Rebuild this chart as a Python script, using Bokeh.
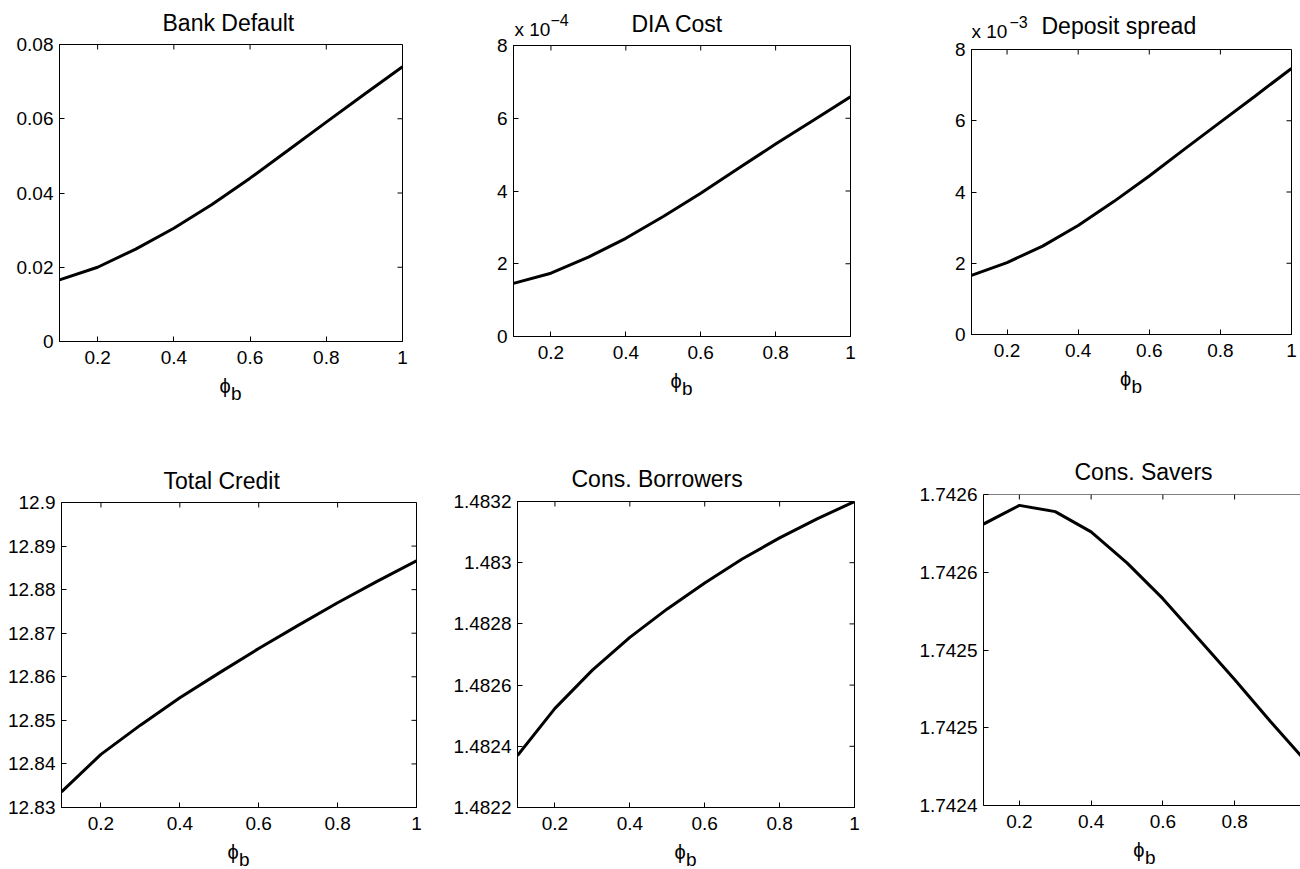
import math
from bokeh.plotting import figure
from bokeh.layouts import column, row
from bokeh.models import FixedTicker, CustomJSTickFormatter, Range1d, Span
from bokeh.core.properties import value
from bokeh.embed import file_html
from bokeh.resources import INLINE

# ---------------- data ----------------
phi_b = [0.1, 0.2, 0.3, 0.4, 0.5, 0.6, 0.7, 0.8, 0.9, 1.0]

bank_default = [0.0166, 0.0200, 0.0249, 0.0305, 0.0369, 0.0440, 0.0515, 0.0591, 0.0666, 0.0740]
dia_cost = [1.46e-4, 1.74e-4, 2.18e-4, 2.70e-4, 3.30e-4, 3.94e-4, 4.62e-4, 5.29e-4, 5.94e-4, 6.59e-4]
deposit_spread = [1.66e-3, 2.02e-3, 2.48e-3, 3.06e-3, 3.73e-3, 4.45e-3, 5.21e-3, 5.96e-3, 6.71e-3, 7.47e-3]
total_credit = [12.8336, 12.8422, 12.8489, 12.8552, 12.8609, 12.8665, 12.8718, 12.8770, 12.8819, 12.8866]
cons_borrowers = [1.48237, 1.482524, 1.482649, 1.482756, 1.482849, 1.482934, 1.483012, 1.483081, 1.483143, 1.4832]
cons_savers = [1.742581, 1.742593, 1.742589, 1.742576, 1.742556, 1.742533, 1.742507, 1.742481, 1.742454, 1.742428]

x_ticks = [0.2, 0.4, 0.6, 0.8, 1.0]
x_tick_labels = ["0.2", "0.4", "0.6", "0.8", "1"]

bd_ticks = [0, 0.02, 0.04, 0.06, 0.08]
bd_labels = ["0", "0.02", "0.04", "0.06", "0.08"]
dia_ticks = [0, 2e-4, 4e-4, 6e-4, 8e-4]
dia_labels = ["0", "2", "4", "6", "8"]
ds_ticks = [0, 2e-3, 4e-3, 6e-3, 8e-3]
ds_labels = ["0", "2", "4", "6", "8"]
tc_ticks = [12.83, 12.84, 12.85, 12.86, 12.87, 12.88, 12.89, 12.9]
tc_labels = ["12.83", "12.84", "12.85", "12.86", "12.87", "12.88", "12.89", "12.9"]
cb_ticks = [1.4822, 1.4824, 1.4826, 1.4828, 1.483, 1.4832]
cb_labels = ["1.4822", "1.4824", "1.4826", "1.4828", "1.483", "1.4832"]
cs_ticks = [1.7424, 1.74245, 1.7425, 1.74255, 1.7426]
cs_labels = ["1.7424", "1.7425", "1.7425", "1.7426", "1.7426"]

FONT = "Liberation Sans"
T_MAIN = 8    # room above the frame inside the plot canvas (for the top tick label)
B_MAIN = 32   # room below the frame for the x tick labels


def fmt(tvals, tlabels):
    return CustomJSTickFormatter(args=dict(tvals=tvals, tlabels=tlabels), code="""
let best = 0;
for (let i = 0; i < tvals.length; i++) {
  if (Math.abs(tvals[i] - tick) < Math.abs(tvals[best] - tick)) best = i;
}
return tlabels[best];
""")


def style_axis(ax, tvals, tlabels, standoff):
    ax.ticker = FixedTicker(ticks=tvals)
    ax.formatter = fmt(tvals, tlabels)
    ax.major_tick_in = 5
    ax.major_tick_out = 0
    ax.minor_tick_in = 0
    ax.minor_tick_out = 0
    ax.axis_line_color = "black"
    ax.major_tick_line_color = "black"
    ax.major_label_text_font = FONT
    ax.major_label_text_color = "black"
    ax.major_label_text_font_size = "19px"
    ax.major_label_standoff = standoff


def strip(W, H, L, R):
    """A text strip: its frame spans the same columns as the panel's frame,
    and its coordinates are pixels (x from the frame's left, y from the strip's top)."""
    s = figure(width=W, height=H, x_range=Range1d(0, W - L - R), y_range=Range1d(H, 0),
               x_axis_type=None, y_axis_type=None, output_backend="svg",
               toolbar_location=None, title=None,
               min_border_left=L, min_border_right=R, min_border_top=0, min_border_bottom=0)
    s.grid.visible = False
    s.outline_line_color = None
    s.background_fill_color = "white"
    s.border_fill_color = "white"
    return s


def txt(s, x, y, text, size, align="left"):
    s.text(x=[x], y=[y], text=[text], text_font=value(FONT), text_font_size=value(size),
           text_color="black", text_align=align, text_baseline="middle")


def panel(title, ys, yticks, ylabels, yr, W, HROW, L, R, F, FH, tdx, tmid,
          expo=None, xend=1.0, right_side=True):
    # --- top strip: title and exponent (y = vertical middle of each text, row-relative) ---
    top_h = F - T_MAIN
    st = strip(W, top_h, L, R)
    txt(st, tdx, tmid, title, "23px")
    if expo is not None:
        ex, ey, sup, sx, sy = expo
        txt(st, ex, ey, "x 10", "19px")
        txt(st, sx, sy, sup, "16px")

    # --- main plot ---
    p = figure(width=W, height=T_MAIN + FH + B_MAIN, x_range=Range1d(0.1, xend),
               y_range=Range1d(*yr), output_backend="svg", toolbar_location=None, title=None,
               min_border_left=L, min_border_right=R, min_border_top=T_MAIN,
               min_border_bottom=B_MAIN)
    p.grid.visible = False
    p.background_fill_color = "white"
    p.border_fill_color = "white"
    p.outline_line_color = "black" if right_side else None
    style_axis(p.xaxis[0], x_ticks, x_tick_labels, 9)
    style_axis(p.yaxis[0], yticks, ylabels, 6)

    # inward ticks on the top and right edges
    top_x = [t for t in x_ticks if t <= xend]
    p.ray(x=top_x, y=[yr[1]] * len(top_x), length=5, length_units="screen",
          angle=-math.pi / 2, line_color="black", line_width=1)
    if right_side:
        p.ray(x=[xend] * len(yticks), y=yticks, length=5, length_units="screen",
              angle=math.pi, line_color="black", line_width=1)
    else:
        p.add_layout(Span(location=yr[1], dimension="width", line_color="black", line_width=1))

    p.line(phi_b, ys, line_color="black", line_width=3)

    # --- bottom strip: x label phi_b (y measured below the frame's bottom) ---
    bot_h = HROW - top_h - (T_MAIN + FH + B_MAIN)
    sb_ = strip(W, bot_h, L, R)
    full_w = (W - L - R) * (1.0 - 0.1) / (xend - 0.1)
    txt(sb_, full_w / 2 - 6, 44 - B_MAIN, "ϕ", "20px", align="center")
    txt(sb_, full_w / 2, 52 - B_MAIN, "b", "19px")

    return column(column(st), column(p), column(sb_))


c1 = panel("Bank Default", bank_default, bd_ticks, bd_labels, (0, 0.08),
           440, 440, 59, 38, 44, 297, 103, 22)
c2 = panel("DIA Cost", dia_cost, dia_ticks, dia_labels, (0, 8e-4),
           440, 440, 73, 30, 45, 291, 118, 23, expo=(1, 29, "−4", 37, 19))
c3 = panel("Deposit spread", deposit_spread, ds_ticks, ds_labels, (0, 8e-3),
           420, 440, 91, 9, 49, 285, 70, 25.5, expo=(0, 31, "−3", 38, 21))
c4 = panel("Total Credit", total_credit, tc_ticks, tc_labels, (12.83, 12.9),
           440, 429, 61, 24, 62, 305, 102, 40)
c5 = panel("Cons. Borrowers", cons_borrowers, cb_ticks, cb_labels, (1.4822, 1.4832),
           440, 429, 77, 26, 61, 306, 54, 38)
c6 = panel("Cons. Savers", cons_savers, cs_ticks, cs_labels, (1.7424, 1.7426),
           420, 429, 103, 0, 54, 311, 91, 31, xend=0.9837, right_side=False)

layout = column(row(c1, c2, c3), row(c4, c5, c6))
open("out.html", "w").write(file_html(layout, INLINE))
